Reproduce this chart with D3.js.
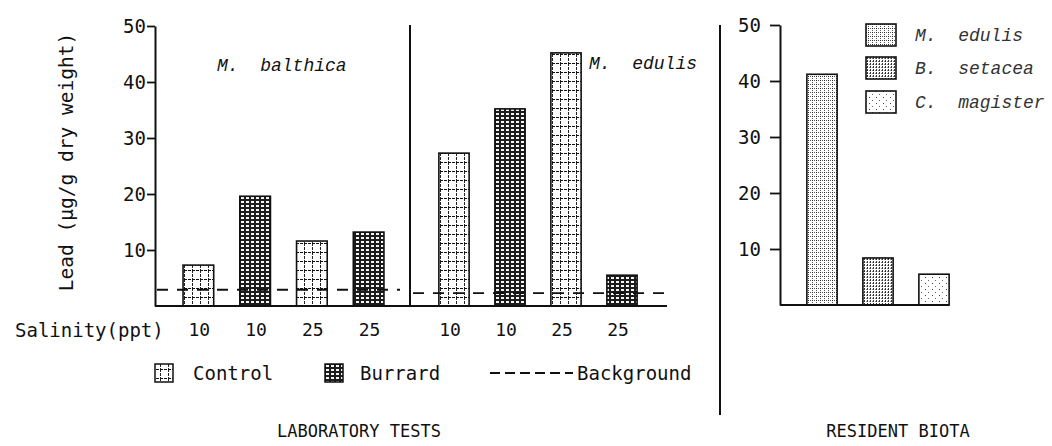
<!DOCTYPE html>
<html>
<head>
<meta charset="utf-8">
<script src="https://cdn.jsdelivr.net/npm/d3@7"></script>
<style>
  body { margin: 0; background: #fff; }
  svg { display: block; }
  text { white-space: pre; }
</style>
</head>
<body>
<svg id="chart" width="1052" height="446"></svg>
<script>
// Laboratory tests: lead in M. balthica and M. edulis, by salinity and sediment
const balthicaSalinity = ["10", "10", "25", "25"];
const balthicaTreatment = ["Control", "Burrard", "Control", "Burrard"];
const balthicaLead = [7.3, 19.6, 11.6, 13.2];

const edulisSalinity = ["10", "10", "25", "25"];
const edulisTreatment = ["Control", "Burrard", "Control", "Burrard"];
const edulisLead = [27.3, 35.2, 45.2, 5.5];

// Background lead level for each test species
const backgroundLead = [2.9, 2.3];

// Resident biota
const biotaSpecies = ["M.  edulis", "B.  setacea", "C.  magister"];
const biotaLead = [41.2, 8.4, 5.5];

const yTicks = [10, 20, 30, 40, 50];
const labTitles = ["M.  balthica", "M.  edulis"];

const svg = d3.select("#chart");
const MONO = "'DejaVu Sans Mono', monospace";
const ITAL = "'Liberation Mono', 'Courier New', monospace";
const INK = "#111";

// ---------- fill patterns ----------
const defs = svg.append("defs");

const pControl = defs.append("pattern").attr("id", "p-control")
  .attr("patternUnits", "userSpaceOnUse").attr("width", 8).attr("height", 9);
pControl.append("rect").attr("width", 8).attr("height", 9).attr("fill", "#fff");
pControl.append("line").attr("x1", 0.5).attr("x2", 0.5).attr("y1", 0).attr("y2", 9)
  .attr("stroke", "#222").attr("stroke-width", 1).attr("stroke-dasharray", "3,1");
pControl.append("line").attr("x1", 0).attr("x2", 8).attr("y1", 0.5).attr("y2", 0.5)
  .attr("stroke", "#111").attr("stroke-width", 1.2).attr("stroke-dasharray", "3,1");

const pBurrard = defs.append("pattern").attr("id", "p-burrard")
  .attr("patternUnits", "userSpaceOnUse").attr("width", 5).attr("height", 4);
pBurrard.append("rect").attr("width", 5).attr("height", 4).attr("fill", "#1c1c1c");
pBurrard.append("rect").attr("x", 1).attr("y", 1).attr("width", 3).attr("height", 2).attr("fill", "#f4f4f4");

const pEdulis = defs.append("pattern").attr("id", "p-medulis")
  .attr("patternUnits", "userSpaceOnUse").attr("width", 4).attr("height", 4);
pEdulis.append("rect").attr("width", 4).attr("height", 4).attr("fill", "#fff");
pEdulis.append("rect").attr("x", 0).attr("y", 0).attr("width", 1).attr("height", 1).attr("fill", "#222");
pEdulis.append("rect").attr("x", 2).attr("y", 0).attr("width", 1).attr("height", 1).attr("fill", "#555");
pEdulis.append("rect").attr("x", 0).attr("y", 2).attr("width", 1).attr("height", 1).attr("fill", "#555");

const pSetacea = defs.append("pattern").attr("id", "p-bsetacea")
  .attr("patternUnits", "userSpaceOnUse").attr("width", 3).attr("height", 3);
pSetacea.append("rect").attr("width", 3).attr("height", 3).attr("fill", "#fff");
pSetacea.append("rect").attr("x", 0).attr("y", 0).attr("width", 1).attr("height", 2).attr("fill", "#333");
pSetacea.append("rect").attr("x", 2).attr("y", 1).attr("width", 1).attr("height", 1).attr("fill", "#888");

const pMagister = defs.append("pattern").attr("id", "p-cmagister")
  .attr("patternUnits", "userSpaceOnUse").attr("width", 7).attr("height", 6);
pMagister.append("rect").attr("width", 7).attr("height", 6).attr("fill", "#fff");
pMagister.append("rect").attr("x", 1).attr("y", 1).attr("width", 1).attr("height", 1).attr("fill", "#444");
pMagister.append("rect").attr("x", 4).attr("y", 4).attr("width", 1).attr("height", 1).attr("fill", "#666");

const treatmentFill = { Control: "url(#p-control)", Burrard: "url(#p-burrard)" };
const biotaFill = ["url(#p-medulis)", "url(#p-bsetacea)", "url(#p-cmagister)"];

// ---------- laboratory tests panel ----------
const yLab = d3.scaleLinear().domain([0, 50]).range([306, 26]);
const labAxisX = 155, labRight = 667, dividerX = 410;

const labSets = [
  { salinity: balthicaSalinity, treatment: balthicaTreatment, lead: balthicaLead, range: [170, 397], labelShift: 1 },
  { salinity: edulisSalinity, treatment: edulisTreatment, lead: edulisLead, range: [426, 650], labelShift: -4 }
];
const labScales = labSets.map(s =>
  d3.scaleBand().domain(d3.range(s.lead.length)).range(s.range).paddingInner(0.46).paddingOuter(0.23));

const lab = svg.append("g");

// bars
labSets.forEach((s, k) => {
  const x = labScales[k];
  lab.append("g").selectAll("rect").data(s.lead).join("rect")
    .attr("x", (d, i) => x(i))
    .attr("y", d => yLab(d))
    .attr("width", x.bandwidth())
    .attr("height", d => yLab(0) - yLab(d))
    .attr("fill", (d, i) => treatmentFill[s.treatment[i]])
    .attr("stroke", INK).attr("stroke-width", 1.6);

  // salinity labels under each bar
  lab.append("g").selectAll("text").data(s.salinity).join("text")
    .attr("x", (d, i) => x(i) + x.bandwidth() / 2 + s.labelShift)
    .attr("y", 330).attr("dy", "0.35em")
    .attr("text-anchor", "middle")
    .attr("font-family", MONO).attr("font-size", 18).attr("fill", INK)
    .text(d => d);
});

// background level dashed lines
const bgSpans = [[labAxisX + 2, 400], [dividerX + 3, labRight]];
lab.append("g").selectAll("line").data(backgroundLead).join("line")
  .attr("x1", (d, i) => bgSpans[i][0]).attr("x2", (d, i) => bgSpans[i][1])
  .attr("y1", d => yLab(d)).attr("y2", d => yLab(d))
  .attr("stroke", INK).attr("stroke-width", 1.8).attr("stroke-dasharray", "11,9");

// y axis
const yAxisLab = lab.append("g").attr("transform", `translate(${labAxisX},0)`)
  .call(d3.axisLeft(yLab).tickValues(yTicks).tickSize(8).tickSizeOuter(0).tickPadding(1));
yAxisLab.select(".domain").attr("stroke", INK).attr("stroke-width", 2);
yAxisLab.selectAll(".tick line").attr("stroke", INK).attr("stroke-width", 1.8);
yAxisLab.selectAll(".tick text").attr("font-family", MONO).attr("font-size", 19).attr("fill", INK);

// baseline and divider
lab.append("line").attr("x1", labAxisX).attr("x2", labRight)
  .attr("y1", yLab(0)).attr("y2", yLab(0)).attr("stroke", INK).attr("stroke-width", 2);
lab.append("line").attr("x1", dividerX).attr("x2", dividerX)
  .attr("y1", 25).attr("y2", yLab(0)).attr("stroke", INK).attr("stroke-width", 2);

// species titles
lab.append("g").selectAll("text").data(labTitles).join("text")
  .attr("x", (d, i) => [217, 589][i]).attr("y", (d, i) => [65, 63][i]).attr("dy", "0.35em")
  .attr("font-family", ITAL).attr("font-style", "italic").attr("font-size", 18).attr("fill", INK)
  .text(d => d);

// axis title
lab.append("text")
  .attr("transform", "translate(66,162) rotate(-90)")
  .attr("text-anchor", "middle").attr("dy", "0.35em")
  .attr("font-family", MONO).attr("font-size", 19.5).attr("fill", INK)
  .text("Lead (\u00b5g/g dry weight)");

lab.append("text").attr("x", 15).attr("y", 330).attr("dy", "0.35em")
  .attr("font-family", MONO).attr("font-size", 19).attr("fill", INK)
  .text("Salinity(ppt)");

// legend
const legend = lab.append("g").attr("font-family", MONO).attr("font-size", 19).attr("fill", INK);
const legendItems = [
  { name: "Control", x: 155, textX: 193 },
  { name: "Burrard", x: 325, textX: 360 }
];
legendItems.forEach(it => {
  legend.append("rect").attr("x", it.x).attr("y", 364).attr("width", 18).attr("height", 18)
    .attr("fill", treatmentFill[it.name]).attr("stroke", INK).attr("stroke-width", 1.5);
  legend.append("text").attr("x", it.textX).attr("y", 373).attr("dy", "0.35em").text(it.name);
});
legend.append("line").attr("x1", 490).attr("x2", 573).attr("y1", 373).attr("y2", 373)
  .attr("stroke", INK).attr("stroke-width", 1.8).attr("stroke-dasharray", "10,5");
legend.append("text").attr("x", 577).attr("y", 373).attr("dy", "0.35em").text("Background");

lab.append("text").attr("x", 359).attr("y", 431).attr("dy", "0.35em")
  .attr("text-anchor", "middle").attr("font-family", MONO).attr("font-size", 17).attr("fill", INK)
  .text("LABORATORY TESTS");

// ---------- resident biota panel ----------
const panelDivX = 720;
svg.append("line").attr("x1", panelDivX).attr("x2", panelDivX).attr("y1", 25).attr("y2", 415)
  .attr("stroke", INK).attr("stroke-width", 2);

const yBio = d3.scaleLinear().domain([0, 50]).range([305, 25]);
const xBio = d3.scaleBand().domain(d3.range(biotaLead.length)).range([794, 962])
  .paddingInner(0.46).paddingOuter(0.23);
const bio = svg.append("g");
const bioAxisX = 780;

bio.append("g").selectAll("rect").data(biotaLead).join("rect")
  .attr("x", (d, i) => xBio(i))
  .attr("y", d => yBio(d))
  .attr("width", xBio.bandwidth())
  .attr("height", d => yBio(0) - yBio(d))
  .attr("fill", (d, i) => biotaFill[i])
  .attr("stroke", INK).attr("stroke-width", 1.6);

const yAxisBio = bio.append("g").attr("transform", `translate(${bioAxisX},0)`)
  .call(d3.axisLeft(yBio).tickValues(yTicks).tickSize(10).tickSizeOuter(0).tickPadding(9));
yAxisBio.select(".domain").attr("stroke", INK).attr("stroke-width", 2);
yAxisBio.selectAll(".tick line").attr("stroke", INK).attr("stroke-width", 1.8);
yAxisBio.selectAll(".tick text").attr("font-family", MONO).attr("font-size", 19).attr("fill", INK);

bio.append("line").attr("x1", bioAxisX).attr("x2", xBio(biotaLead.length - 1) + xBio.bandwidth())
  .attr("y1", yBio(0)).attr("y2", yBio(0)).attr("stroke", INK).attr("stroke-width", 2);

// species legend
const bioLegend = bio.append("g");
const legendRows = [35, 68, 102];
bioLegend.selectAll("rect").data(biotaSpecies).join("rect")
  .attr("x", 866).attr("y", (d, i) => legendRows[i] - 11)
  .attr("width", 30).attr("height", 22)
  .attr("fill", (d, i) => biotaFill[i]).attr("stroke", INK).attr("stroke-width", 1.6);
bioLegend.selectAll("text").data(biotaSpecies).join("text")
  .attr("x", 915).attr("y", (d, i) => legendRows[i]).attr("dy", "0.35em")
  .attr("font-family", ITAL).attr("font-style", "italic").attr("font-size", 18).attr("fill", "#333")
  .text(d => d);

bio.append("text").attr("x", 898).attr("y", 431).attr("dy", "0.35em")
  .attr("text-anchor", "middle").attr("font-family", MONO).attr("font-size", 17).attr("fill", INK)
  .text("RESIDENT BIOTA");
</script>
</body>
</html>
